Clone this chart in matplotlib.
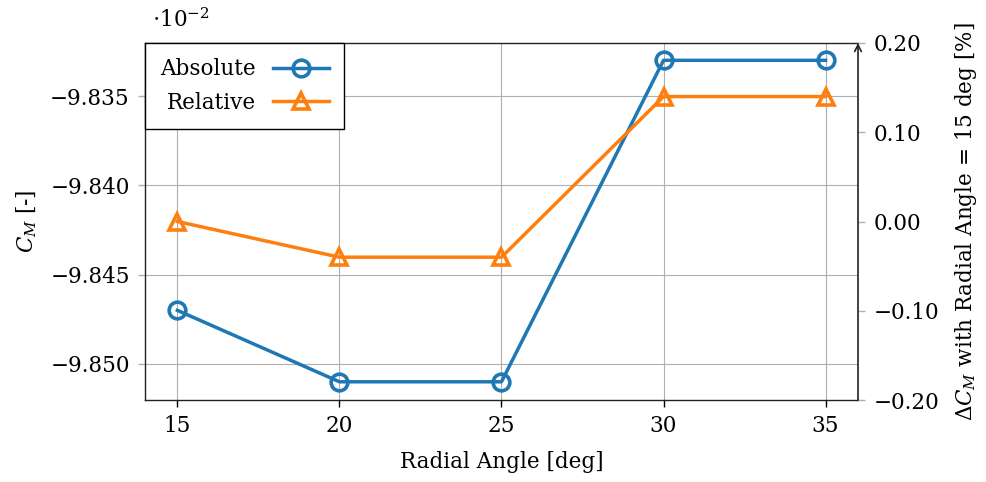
import matplotlib
matplotlib.use("Agg")
import matplotlib.pyplot as plt
from matplotlib.ticker import FuncFormatter, FixedLocator

plt.rcParams['font.family'] = ['DejaVu Serif']
plt.rcParams['mathtext.fontset'] = 'dejavuserif'
plt.rcParams['font.size'] = 15.5

radial_angle = [15, 20, 25, 30, 35]
cm_absolute = [-9.847, -9.851, -9.851, -9.833, -9.833]        # x 10^-2
cm_relative = [0.00, -0.04, -0.04, 0.14, 0.14]                # percent
left_ticks = [-9.850, -9.845, -9.840, -9.835]
right_ticks = [-0.20, -0.10, 0.00, 0.10, 0.20]

blue = '#1f77b4'
orange = '#ff7f0e'
grid_gray = '#b0b0b0'

fig = plt.figure(figsize=(9.87, 4.82), dpi=100)
ax = fig.add_axes([0.1469, 0.1701, 0.7224, 0.7407])
ax2 = ax.twinx()

l1, = ax.plot(radial_angle, cm_absolute, color=blue, lw=2.5, marker='o',
              ms=12, mfc='none', mew=2.6, label='Absolute', zorder=3)
l2, = ax2.plot(radial_angle, cm_relative, color=orange, lw=2.5, marker='^',
               ms=12, mfc='none', mew=2.6, label='Relative', zorder=3)

ax.set_xlim(14, 36)
ax.set_ylim(-9.85202, -9.83203)
ax2.set_ylim(-0.2, 0.2)

ax.set_xticks(radial_angle)
ax.yaxis.set_major_locator(FixedLocator(left_ticks))
ax.yaxis.set_major_formatter(FuncFormatter(lambda v, p: f"{v:.3f}".replace('-', '\u2212')))
ax2.yaxis.set_major_locator(FixedLocator(right_ticks))
ax2.yaxis.set_major_formatter(FuncFormatter(lambda v, p: f"{v:.2f}".replace('-', '\u2212')))

ax.grid(True, color=grid_gray, lw=0.8)
ax.set_axisbelow(True)

ax.tick_params(axis='x', direction='out', length=5, width=1, color='black', pad=6)
ax.tick_params(axis='y', direction='out', length=5, width=1, color=grid_gray, pad=6)
ax2.tick_params(axis='y', direction='out', length=5, width=1, color=grid_gray, pad=6)

for sp in ['left', 'bottom', 'top']:
    ax.spines[sp].set_linewidth(1)
    ax.spines[sp].set_color('#222222')
ax.spines['right'].set_visible(False)
for sp in ax2.spines.values():
    sp.set_visible(False)

# right axis line drawn as an arrow
ax2.annotate('', xy=(1, 1.0), xytext=(1, 0), xycoords='axes fraction',
             arrowprops=dict(arrowstyle='->', color='#222222', lw=1.2,
                             shrinkA=0, shrinkB=0, mutation_scale=12))

ax.set_xlabel('Radial Angle [deg]', labelpad=10)
ax.set_ylabel('$C_M$ [-]', labelpad=8)
ax2.set_ylabel(r'$\Delta C_M$ with Radial Angle = 15 deg [%]', labelpad=10)

ax.text(0.01, 1.03, r'$\cdot 10^{-2}$', transform=ax.transAxes, ha='left', va='bottom')

leg = ax2.legend(handles=[l1, l2], loc='upper left', markerfirst=False,
                 borderaxespad=0, fancybox=False, framealpha=1, edgecolor='black',
                 handlelength=2.6, handletextpad=0.8, borderpad=0.7, labelspacing=0.55)
leg.get_frame().set_linewidth(1)

fig.savefig('out.png', dpi=100)
